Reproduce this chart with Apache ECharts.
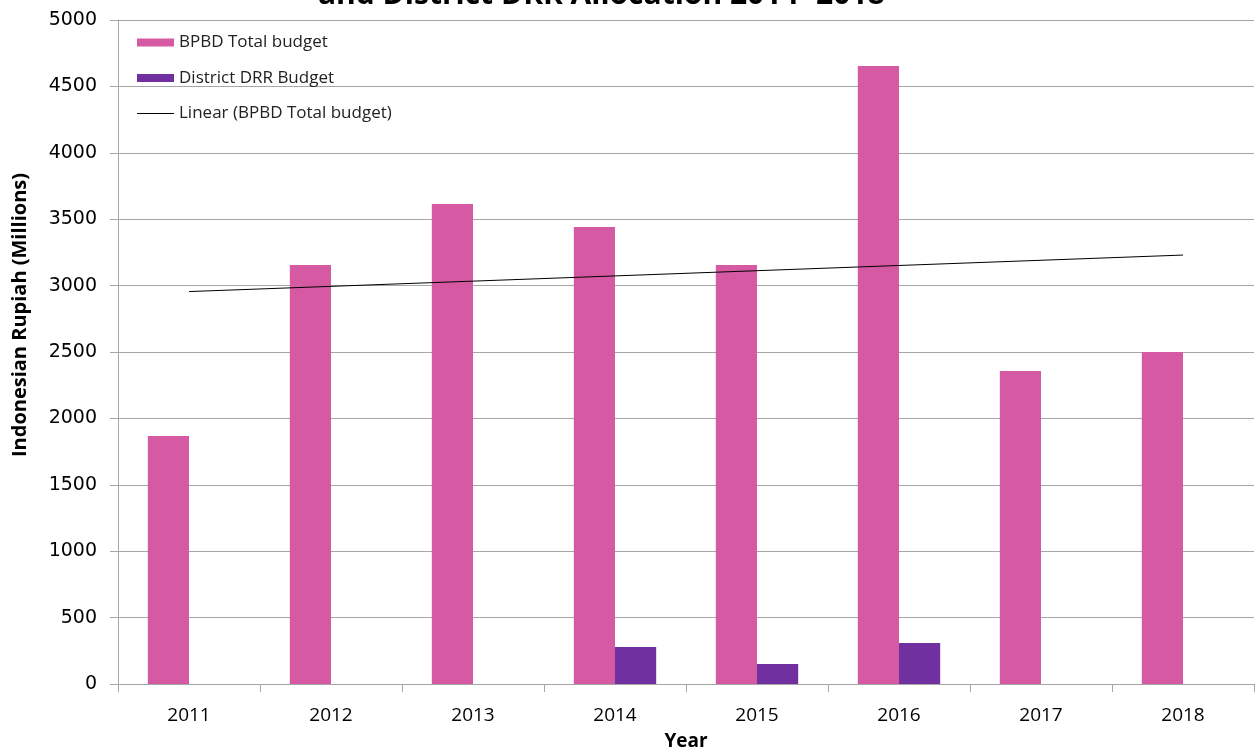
<!DOCTYPE html>
<html><head><meta charset="utf-8">
<script src="https://cdn.jsdelivr.net/npm/echarts@6/dist/echarts.min.js"></script>
<style>html,body{margin:0;padding:0;background:#fff}#c{width:1260px;height:754px}</style>
</head><body><div id="c"></div>
<script>
const years = ['2011','2012','2013','2014','2015','2016','2017','2018'];
const bpbdTotal = [1867, 3155, 3614, 3441, 3155, 4654, 2357, 2500];
const districtDRR = [null, null, null, 279, 150, 309, null, null];
const linearTrend = [2955, null, null, null, null, null, null, 3230];
const yTicks = [0, 500, 1000, 1500, 2000, 2500, 3000, 3500, 4000, 4500, 5000];

const chart = echarts.init(document.getElementById('c'));
chart.setOption({
  animation: false,
  title: {
    text: 'and District DRR Allocation 2014- 2018',
    left: 313, top: -25,
    textStyle: {fontFamily: 'Open Sans', fontWeight: 'bold', fontSize: 30, color: '#000'}
  },
  grid: {left: 118, right: 6, top: 20, bottom: 70, outerBoundsMode: 'none'},
  legend: {
    orient: 'vertical', left: 132, top: 29, itemGap: 18.5,
    itemWidth: 37, itemHeight: 8,
    textStyle: {fontFamily: 'Open Sans', fontSize: 17, color: '#222'},
    data: [
      {name: 'BPBD Total budget', icon: 'rect'},
      {name: 'District DRR Budget', icon: 'rect'},
      {name: 'Linear (BPBD Total budget)', icon: 'path://M0,0 L37,0 L37,1 L0,1 Z', itemStyle: {color: '#000'}}
    ]
  },
  xAxis: {
    type: 'category', data: years,
    name: 'Year', nameLocation: 'middle', nameGap: 48,
    nameTextStyle: {fontFamily: 'Open Sans', fontWeight: 'bold', fontSize: 19, color: '#000'},
    axisLine: {lineStyle: {color: '#a6a6a6'}},
    axisTick: {show: true, length: 8, lineStyle: {color: '#a6a6a6'}},
    axisLabel: {fontFamily: 'Open Sans', fontSize: 19, color: '#000', margin: 22}
  },
  yAxis: {
    type: 'value', min: 0, max: 5000, interval: 500,
    axisLine: {show: true, lineStyle: {color: '#a6a6a6'}},
    axisTick: {show: true, length: 8, lineStyle: {color: '#a6a6a6'}},
    axisLabel: {fontFamily: 'DejaVu Sans', fontSize: 19, color: '#000', margin: 21,
      formatter: v => yTicks.includes(v) ? String(v) : ''},
    splitLine: {lineStyle: {color: '#a6a6a6'}}
  },
  graphic: [{
    type: 'text', x: 20, y: 315, rotation: Math.PI / 2,
    style: {text: 'Indonesian Rupiah (Millions)', fontFamily: 'Open Sans', fontWeight: 'bold',
      fontSize: 20, fill: '#000', align: 'center', verticalAlign: 'middle'}
  }],
  series: [
    {name: 'BPBD Total budget', type: 'bar', data: bpbdTotal, barGap: '0%', barCategoryGap: '42%',
      itemStyle: {color: '#D65AA3'}},
    {name: 'District DRR Budget', type: 'bar', data: districtDRR,
      itemStyle: {color: '#7030A0'}},
    {name: 'Linear (BPBD Total budget)', type: 'line', data: linearTrend, connectNulls: true,
      symbol: 'none', lineStyle: {color: '#000', width: 1}, itemStyle: {color: '#000'}}
  ]
});
</script></body></html>
